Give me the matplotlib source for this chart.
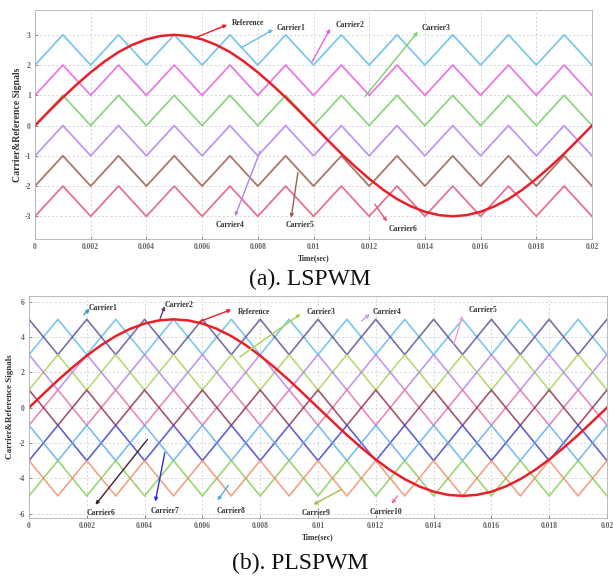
import matplotlib
matplotlib.use('Agg')
import matplotlib.pyplot as plt
import numpy as np

# ---------------- data ----------------
# reference samples (every 0.0005 s over one 50 Hz period)
ref_t = np.linspace(0, 0.02, 41)
ref_a = [0, 0.47, 0.93, 1.36, 1.76, 2.12, 2.43, 2.67, 2.85, 2.96, 3.00,
         2.96, 2.85, 2.67, 2.43, 2.12, 1.76, 1.36, 0.93, 0.47, 0,
         -0.47, -0.93, -1.36, -1.76, -2.12, -2.43, -2.67, -2.85, -2.96, -3.00,
         -2.96, -2.85, -2.67, -2.43, -2.12, -1.76, -1.36, -0.93, -0.47, 0]
ref_b = [0, 0.78, 1.55, 2.27, 2.94, 3.54, 4.05, 4.46, 4.76, 4.94, 5.00,
         4.94, 4.76, 4.46, 4.05, 3.54, 2.94, 2.27, 1.55, 0.78, 0,
         -0.78, -1.55, -2.27, -2.94, -3.54, -4.05, -4.46, -4.76, -4.94, -5.00,
         -4.94, -4.76, -4.46, -4.05, -3.54, -2.94, -2.27, -1.55, -0.78, 0]

# carrier vertices (triangle corners every 0.001 s)
carrier_t = np.linspace(0, 0.02, 21)
carrier_unit = [0, 1, 0, 1, 0, 1, 0, 1, 0, 1, 0, 1, 0, 1, 0, 1, 0, 1, 0, 1, 0]

# (a) LSPWM carriers: lower level of each band, pk-pk 1
ls_names = ['Carrier1', 'Carrier2', 'Carrier3', 'Carrier4', 'Carrier5', 'Carrier6']
ls_low = [2, 1, 0, -1, -2, -3]
ls_colors = ['#66bdec', '#e662e0', '#7ccd6e', '#b384f0', '#9c5e4e', '#e2587e']

# (b) PLSPWM carriers: lower level of band, pk-pk 2, phase (inverted or not)
pls_names = ['Carrier1', 'Carrier2', 'Carrier3', 'Carrier4', 'Carrier5',
             'Carrier6', 'Carrier7', 'Carrier8', 'Carrier9', 'Carrier10']
pls_low = [3, 3, 1, 1, -1, -1, -3, -3, -5, -5]
pls_inverted = [False, True, False, True, False, True, False, True, False, True]
pls_colors = ['#5ab8e8', '#5a4a8c', '#a8d050', '#b27ee6', '#e26aa8',
              '#8a2a4a', '#3a3ac4', '#5aaaf0', '#80cc50', '#f08a6a']

xticks = [0, 0.002, 0.004, 0.006, 0.008, 0.01, 0.012, 0.014, 0.016, 0.018, 0.02]
xticklabels = ['0', '0.002', '0.004', '0.006', '0.008', '0.01', '0.012',
               '0.014', '0.016', '0.018', '0.02']
yticks_a = [-3, -2, -1, 0, 1, 2, 3]
yticks_b = [-6, -4, -2, 0, 2, 4, 6]

SERIF = ['Liberation Serif', 'DejaVu Serif']

fig = plt.figure(figsize=(6.13, 5.76), dpi=100)


def style_axes(ax, yticks, ylabel_size, ylabel_pad):
    ax.set_xlim(0, 0.02)
    ax.set_xticks(xticks)
    ax.set_xticklabels(xticklabels)
    ax.set_yticks(yticks)
    ax.set_yticklabels([str(v) for v in yticks])
    for lab in ax.get_xticklabels() + ax.get_yticklabels():
        lab.set_fontfamily(SERIF)
        lab.set_fontweight('bold')
        lab.set_fontsize(5.5)
        lab.set_color('#333333')
    ax.tick_params(direction='in', length=2, width=0.5, pad=3, colors='#666666')
    ax.grid(True, color='#c8c8c8', linestyle='--', linewidth=0.5, dashes=(3, 3))
    ax.set_axisbelow(True)
    for s in ax.spines.values():
        s.set_color('#b0b0b0')
        s.set_linewidth(0.6)
    ax.set_xlabel('Time(sec)', fontfamily=SERIF, fontweight='bold', fontsize=5.5,
                  labelpad=2, color='#333333')
    ax.set_ylabel('Carrier&Reference Signals', fontfamily=SERIF, fontweight='bold',
                  fontsize=ylabel_size, labelpad=ylabel_pad, color='#333333')


def label(ax, text, xy_from, xy_to, txt_xy, color):
    ax.annotate('', xy=xy_to, xytext=xy_from,
                arrowprops=dict(arrowstyle='-|>', color=color, lw=1.0,
                                mutation_scale=5, shrinkA=0, shrinkB=0))
    ax.text(txt_xy[0], txt_xy[1], text, fontfamily=SERIF, fontweight='bold',
            fontsize=5.5, ha='center', va='center', color='#333333')


# ---------------- (a) LSPWM ----------------
ax1 = fig.add_axes([35 / 613, 1 - 239 / 576, 557 / 613, 229 / 576])
unit = np.array(carrier_unit)
for name, low, col in zip(ls_names, ls_low, ls_colors):
    ax1.plot(carrier_t, low + unit, color=col, lw=1.3, alpha=0.85)
ax1.plot(ref_t, ref_a, color='#e8202a', lw=1.8)
ax1.set_ylim(-3.75, 3.82)
style_axes(ax1, yticks_a, 7, 2)

label(ax1, 'Reference', (0.0058, 2.92), (0.0069, 3.33), (0.00765, 3.40), '#e8202a')
label(ax1, 'Carrier1', (0.0074, 2.57), (0.00855, 3.17), (0.0092, 3.23), ls_colors[0])
label(ax1, 'Carrier2', (0.00995, 2.11), (0.0106, 3.20), (0.0113, 3.33), ls_colors[1])
label(ax1, 'Carrier3', (0.01185, 0.96), (0.01375, 3.10), (0.0144, 3.23), ls_colors[2])
label(ax1, 'Carrier4', (0.00808, -0.86), (0.00718, -3.0), (0.0070, -3.30), ls_colors[3])
label(ax1, 'Carrier5', (0.00944, -1.55), (0.0092, -3.05), (0.0095, -3.30), ls_colors[4])
label(ax1, 'Carrier6', (0.0122, -2.6), (0.01264, -3.17), (0.0132, -3.43), ls_colors[5])

# ---------------- (b) PLSPWM ----------------
ax2 = fig.add_axes([29 / 613, 1 - 518 / 576, 578 / 613, 222 / 576])
for name, low, inv, col in zip(pls_names, pls_low, pls_inverted, pls_colors):
    shape = (1 - unit) if inv else unit
    ax2.plot(carrier_t, low + 2 * shape, color=col, lw=1.2, alpha=0.8)
ax2.plot(ref_t, ref_b, color='#e8202a', lw=1.8)
ax2.set_ylim(-6.25, 6.32)
style_axes(ax2, yticks_b, 6.5, 3)

label(ax2, 'Carrier1', (0.0019, 5.25), (0.0021, 5.6), (0.00255, 5.66), '#3a9ac0')
label(ax2, 'Carrier2', (0.00454, 5.05), (0.0047, 5.75), (0.0052, 5.83), '#6a3a6a')
label(ax2, 'Reference', (0.0059, 4.87), (0.0070, 5.55), (0.0078, 5.43), '#e8202a')
label(ax2, 'Carrier3', (0.0073, 2.88), (0.0094, 5.3), (0.0101, 5.43), '#a8d050')
label(ax2, 'Carrier4', (0.0115, 4.9), (0.0118, 5.3), (0.0124, 5.43), '#c0a0f0')
label(ax2, 'Carrier5', (0.0147, 3.6), (0.0150, 5.2), (0.0157, 5.55), '#f0a0d0')
label(ax2, 'Carrier6', (0.0041, -1.8), (0.0023, -5.5), (0.0025, -5.94), '#402030')
label(ax2, 'Carrier7', (0.0047, -2.55), (0.00437, -5.32), (0.0047, -5.83), '#3030d0')
label(ax2, 'Carrier8', (0.0069, -4.4), (0.00652, -5.26), (0.0070, -5.83), '#5aaaf0')
label(ax2, 'Carrier9', (0.0108, -4.64), (0.00984, -5.49), (0.00995, -5.94), '#a0c040')
label(ax2, 'Carrier10', (0.01275, -5.0), (0.01255, -5.45), (0.01235, -5.89), '#f070a0')

# ---------------- captions ----------------
fig.text(310 / 613, 1 - 279 / 576, '(a). LSPWM', fontfamily=SERIF, fontsize=17,
         ha='center', va='center', color='#111111')
fig.text(300 / 613, 1 - 563 / 576, '(b). PLSPWM', fontfamily=SERIF, fontsize=17,
         ha='center', va='center', color='#111111')

fig.savefig('out.png', dpi=100)
